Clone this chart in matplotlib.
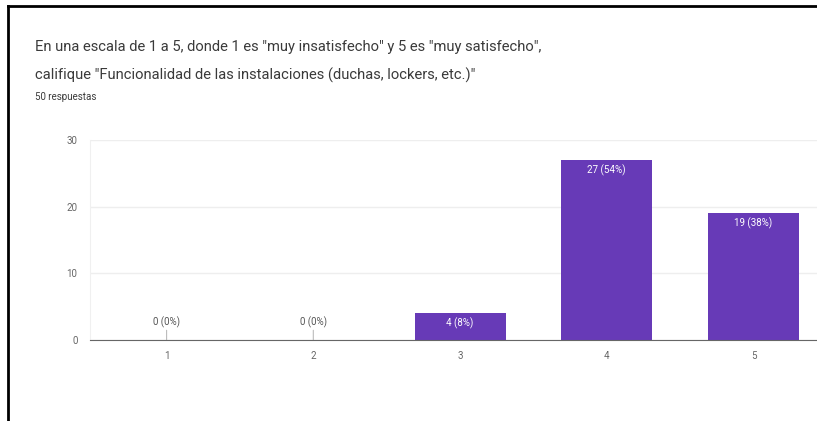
import matplotlib
matplotlib.use("Agg")
import matplotlib.pyplot as plt

# data
categories = ["1", "2", "3", "4", "5"]
counts = [0, 0, 4, 27, 19]
total = 50
yticks = [0, 10, 20, 30]

title1 = 'En una escala de 1 a 5, donde 1 es "muy insatisfecho" y 5 es "muy satisfecho",'
title2 = 'califique "Funcionalidad de las instalaciones (duchas, lockers, etc.)"'
subtitle = "50 respuestas"

plt.rcParams['font.family'] = ['Roboto', 'DejaVu Sans']
purple = '#673ab7'

fig = plt.figure(figsize=(8.17, 4.21), dpi=100)
fig.patch.set_facecolor('white')

# frame of the screenshot (top and left edges only)
fig.add_artist(plt.Line2D([8/817, 8/817], [0, 1 - 6/421], color='black', lw=2))
fig.add_artist(plt.Line2D([8/817, 1], [1 - 6/421, 1 - 6/421], color='black', lw=2))

fig.text(35/817, 1 - 47/421, title1, fontsize=10.6, color='#3a3a3a', va='center')
fig.text(35/817, 1 - 75/421, title2, fontsize=10.6, color='#3a3a3a', va='center')
fig.text(35/817, 1 - 97/421, subtitle, fontsize=7, color='#3a3a3a', va='center')

ax = fig.add_axes([90/817, 81/421, 1 - 90/817, 200/421])
x = list(range(1, len(categories) + 1))
ax.bar(x, counts, width=0.62, color=purple, zorder=2)

for xi, v in zip(x, counts):
    lab = f"{v} ({v / total:.0%})"
    if v == 0:
        ax.annotate(lab, xy=(xi, v), xytext=(0, 9), textcoords='offset points',
                    ha='center', va='bottom', fontsize=7, color='#555555',
                    arrowprops=dict(arrowstyle='-', color='#bbbbbb', lw=0.8,
                                    shrinkA=0, shrinkB=0))
    else:
        ax.annotate(lab, xy=(xi, v), xytext=(0, -3), textcoords='offset points',
                    ha='center', va='top', fontsize=7, color='white')

ax.set_xlim(0.478, 5.433)
ax.set_ylim(0, 30)
ax.set_xticks(x)
ax.set_xticklabels(categories)
ax.set_yticks(yticks)
ax.tick_params(axis='both', length=0, labelsize=7, labelcolor='#666666')
ax.tick_params(axis='x', pad=8)
ax.tick_params(axis='y', pad=9)
ax.grid(axis='y', color='#eeeeee', lw=1, zorder=0)
for s in ['top', 'right']:
    ax.spines[s].set_visible(False)
ax.spines['left'].set_color('#f0f0f0')
ax.spines['bottom'].set_color('#666666')
ax.spines['bottom'].set_zorder(3)

fig.savefig("out.png", dpi=100)
